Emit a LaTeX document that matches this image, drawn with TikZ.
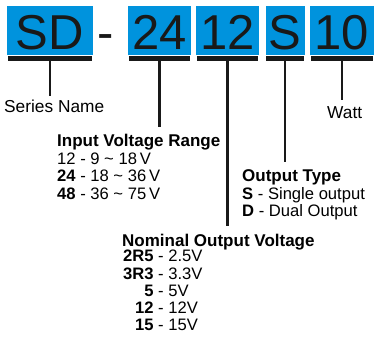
\documentclass[tikz,border=0pt]{standalone}
\usepackage{fontspec}
\setmainfont{Liberation Sans}
\definecolor{codeblue}{RGB}{0,147,221}
\tikzstyle{codebox} = [fill=codeblue, inner sep=0pt, minimum height=49pt, text height=39pt, text depth=0pt, text=black!90, font=\fontsize{49}{49}\selectfont]
\tikzstyle{bar} = [line width=5.5pt, black!90]
\tikzstyle{lead} = [line width=2.6pt, black!90]
\tikzstyle{caption} = [inner sep=0pt, outer ysep=4pt, anchor=base west, font=\fontsize{17.3}{20}\selectfont]
\tikzstyle{heading} = [inner sep=0pt, outer ysep=8pt, anchor=base west, font=\fontsize{17}{20}\selectfont\bfseries]
\tikzstyle{row} = [inner sep=0pt, anchor=base west, font=\fontsize{16.6}{20}\selectfont]

\begin{document}
\begin{tikzpicture}[x=1pt,y=-1pt]
    \useasboundingbox (0,0) rectangle (375,342);
    \foreach \nm/\cx/\w/\txt in {sd/50/86/SD, vin/159.5/63/24, vout/227.5/63/12, otype/285/39/S, watt/342/64/10}{
        \node[codebox, minimum width=\w pt] (\nm) at (\cx,30.5) {\txt};
        \draw[bar] ([xshift=1pt,yshift=-3.25pt]\nm.south west) -- ([xshift=-1pt,yshift=-3.25pt]\nm.south east);
    }
    \node[codebox, fill=none] (dash) at (106,30.5) {-};

    \node[caption] (series) at (4,112.7) {Series Name};
    \node[caption, outer ysep=6pt] (power) at (327,118.3) {Watt};

    \node[heading] (inhead) at (57,147) {Input Voltage Range};
    \node[row] (in12) at (57,164.5) {12 - 9 \textasciitilde{} 18\,V};
    \node[row] (in24) at (57,182) {\textbf{24} - 18 \textasciitilde{} 36\,V};
    \node[row] (in48) at (57,199.5) {\textbf{48} - 36 \textasciitilde{} 75\,V};

    \node[heading] (typehead) at (242,181.7) {Output Type};
    \node[row] (typeS) at (242,199.2) {\textbf{S} - Single output};
    \node[row] (typeD) at (242,216.7) {\textbf{D} - Dual Output};

    \node[heading] (nomhead) at (122,246) {Nominal Output Voltage};
    \foreach \code/\val/\yy in {2R5/2.5V/261.7, 3R3/3.3V/279.3, 5/5V/296, 12/12V/313.3, 15/15V/330}{
        \node[row] (nom\code) at (158,\yy) {\llap{\textbf{\code}\ }- \val};
    }

    \draw[lead] ([yshift=-4pt]sd.south) -- (sd.south |- series.north);
    \draw[lead] ([yshift=-4pt]vin.south) -- (vin.south |- inhead.north);
    \draw[lead] ([yshift=-4pt]vout.south) -- (vout.south |- nomhead.north);
    \draw[lead] ([yshift=-4pt]otype.south) -- (otype.south |- typehead.north);
    \draw[lead] ([yshift=-4pt]watt.south) -- (watt.south |- power.north);
\end{tikzpicture}
\end{document}
